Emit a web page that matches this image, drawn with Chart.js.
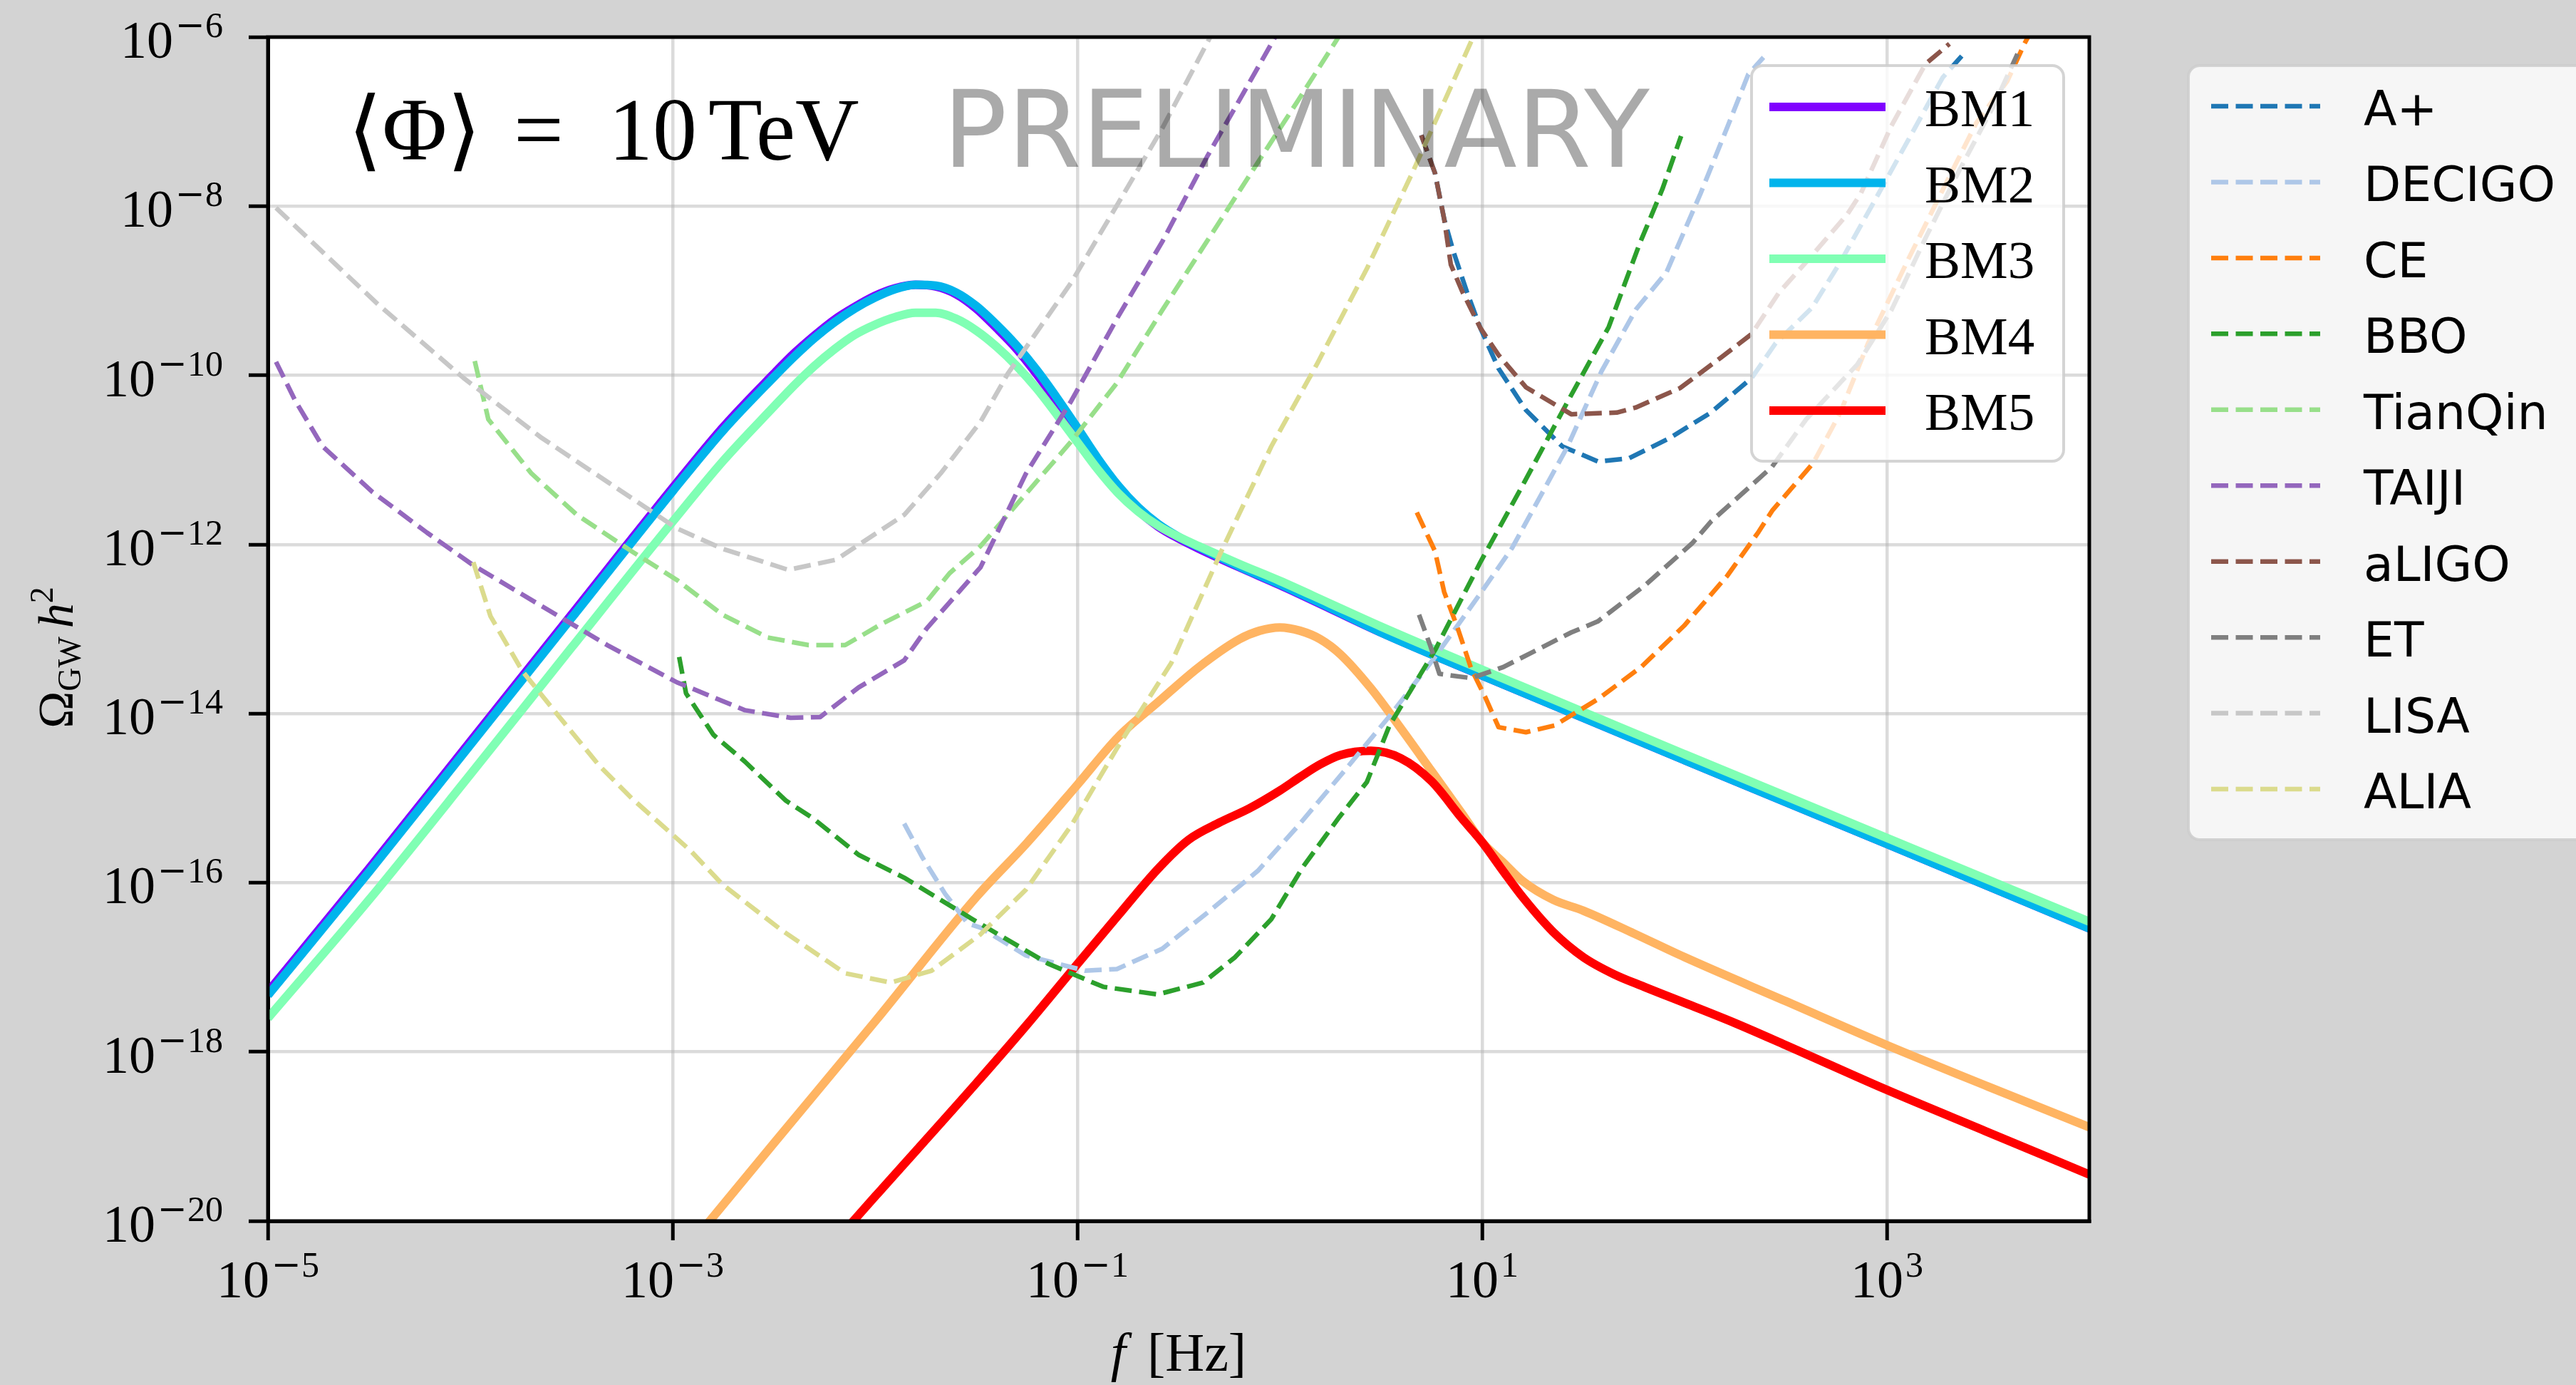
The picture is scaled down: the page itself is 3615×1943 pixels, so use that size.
<!DOCTYPE html>
<html>
<head>
<meta charset="utf-8">
<script src="https://cdn.jsdelivr.net/npm/chart.js@4.4.1/dist/chart.umd.min.js"></script>
<style>
  html, body { margin: 0; padding: 0; background: #d3d3d3; }
  canvas { display: block; }
</style>
</head>
<body>
<canvas id="gw" width="3615" height="1943"></canvas>
<script>
// ---- values are stored as base-10 exponents: log10(f / Hz) and log10(Omega_GW h^2) ----

const FREQ_TICK_EXP  = [-5, -3, -1, 1, 3];
const OMEGA_TICK_EXP = [-20, -18, -16, -14, -12, -10, -8, -6];

// benchmark spectra BM1-BM3 share one frequency grid
const bmFreqExp = [-5, -4.5, -4, -3.5, -3, -2.75, -2.5, -2.4, -2.3, -2.2, -2.1, -2.0, -1.9, -1.8, -1.7, -1.6, -1.5, -1.4, -1.3,
                   -1.2, -1.1, -1.0, -0.9, -0.8, -0.7, -0.6, -0.5, -0.4, -0.2, 0, 0.25, 0.5, 1, 2, 3, 4];
const bm1Exp = [-17.29, -15.83, -14.33, -12.83, -11.33, -10.61, -9.98, -9.74, -9.53, -9.34, -9.19, -9.06, -8.97, -8.93, -8.95, -9.04, -9.21, -9.44, -9.69,
                -9.99, -10.32, -10.67, -11.03, -11.35, -11.60, -11.79, -11.93, -12.05, -12.27, -12.48, -12.76, -13.04, -13.55, -14.55, -15.54, -16.54];
const bm2Exp = [-17.33, -15.87, -14.37, -12.87, -11.37, -10.65, -10.02, -9.78, -9.56, -9.37, -9.21, -9.08, -8.98, -8.93, -8.94, -9.02, -9.18, -9.40, -9.65,
                -9.94, -10.27, -10.62, -10.98, -11.30, -11.56, -11.76, -11.91, -12.03, -12.26, -12.47, -12.75, -13.04, -13.55, -14.55, -15.54, -16.54];
const bm3Exp = [-17.60, -16.20, -14.72, -13.22, -11.73, -11.01, -10.37, -10.12, -9.89, -9.69, -9.52, -9.40, -9.31, -9.26, -9.26, -9.33, -9.47, -9.66, -9.89,
                -10.16, -10.47, -10.79, -11.11, -11.39, -11.61, -11.78, -11.91, -12.02, -12.23, -12.43, -12.70, -12.97, -13.48, -14.48, -15.47, -16.46];

const bm4FreqExp = [-2.9, -2.5, -2.0, -1.5, -1.25, -1.0, -0.8, -0.6, -0.4, -0.2, -0.1, 0.0, 0.1, 0.2, 0.3, 0.45,
                    0.6, 0.75, 0.9, 1.0, 1.1, 1.2, 1.35, 1.5, 1.75, 2.0, 2.5, 3.0, 3.5, 4.0];
const bm4Exp = [-20.24, -19.08, -17.64, -16.17, -15.53, -14.84, -14.28, -13.86, -13.45, -13.12, -13.02, -12.98, -13.02, -13.12, -13.30, -13.70,
                -14.18, -14.68, -15.18, -15.52, -15.75, -15.98, -16.20, -16.33, -16.60, -16.88, -17.40, -17.92, -18.41, -18.89];

const bm5FreqExp = [-2.2, -2.0, -1.5, -1.25, -1.0, -0.8, -0.6, -0.45, -0.3, -0.15, 0.0, 0.1, 0.2, 0.3, 0.45, 0.6,
                    0.75, 0.9, 1.0, 1.1, 1.2, 1.35, 1.5, 1.65, 1.8, 2.0, 2.25, 2.5, 3.0, 3.5, 4.0];
const bm5Exp = [-20.25, -19.71, -18.37, -17.68, -16.96, -16.39, -15.83, -15.49, -15.29, -15.12, -14.91, -14.75, -14.60, -14.49, -14.44, -14.53,
                -14.80, -15.24, -15.52, -15.85, -16.17, -16.58, -16.88, -17.08, -17.23, -17.42, -17.66, -17.92, -18.45, -18.95, -19.45];

// detector sensitivity curves
const aplusFreqExp = [0.699, 0.767, 0.812, 0.857, 0.924, 0.991, 1.081, 1.216, 1.396, 1.574, 1.726, 1.928, 2.13, 2.332, 2.45, 2.63, 2.77, 2.938, 3.107, 3.275, 3.393];
const aplusExp     = [-7.16, -7.61, -8.15, -8.53, -9.01, -9.44, -9.92, -10.41, -10.84, -11.02, -10.98, -10.74, -10.44, -10.03, -9.62, -9.20, -8.66, -7.94, -7.21, -6.48, -6.16];

const decigoFreqExp = [-1.856, -1.766, -1.654, -1.542, -1.479, -1.254, -0.962, -0.805, -0.581, -0.356, -0.109, 0.093, 0.318, 0.542, 0.767, 0.991, 1.148, 1.42, 1.59, 1.76, 1.911, 2.079, 2.214, 2.315, 2.39];
const decigoExp     = [-15.30, -15.70, -16.13, -16.48, -16.53, -16.86, -17.04, -17.02, -16.78, -16.35, -15.86, -15.32, -14.68, -14.03, -13.33, -12.58, -12.04, -10.85, -9.95, -9.22, -8.78, -7.85, -7.05, -6.44, -6.24];

const ceFreqExp = [0.677, 0.767, 0.812, 0.879, 0.946, 1.014, 1.081, 1.216, 1.358, 1.571, 1.785, 1.998, 2.211, 2.366, 2.433, 2.635, 2.77, 2.905, 3.107, 3.275, 3.443, 3.595, 3.679, 3.72];
const ceExp     = [-11.62, -12.08, -12.56, -12.99, -13.47, -13.80, -14.16, -14.22, -14.14, -13.83, -13.45, -12.96, -12.37, -11.85, -11.60, -11.04, -10.44, -9.63, -8.62, -7.81, -7.01, -6.52, -6.08, -5.90];

const bboFreqExp = [-2.968, -2.934, -2.799, -2.642, -2.44, -2.305, -2.081, -1.856, -1.519, -1.142, -0.873, -0.603, -0.379, -0.221, -0.042, 0.115, 0.295, 0.43, 0.542, 0.767, 0.991, 1.2, 1.4225, 1.625, 1.777, 1.89, 1.983];
const bboExp     = [-13.33, -13.76, -14.25, -14.57, -15.03, -15.24, -15.67, -15.94, -16.43, -16.96, -17.23, -17.32, -17.18, -16.88, -16.43, -15.81, -15.22, -14.81, -14.14, -13.25, -12.21, -11.30, -10.31, -9.43, -8.45, -7.80, -7.17];

const tianqinFreqExp = [-3.978, -3.911, -3.698, -3.473, -3.203, -2.979, -2.754, -2.530, -2.328, -2.148, -1.968, -1.744, -1.632, -1.479, -1.254, -1.03, -0.805, -0.581, -0.356, -0.132, 0.093, 0.29, 0.33];
const tianqinExp     = [-9.83, -10.52, -11.16, -11.65, -12.08, -12.42, -12.83, -13.10, -13.19, -13.19, -12.94, -12.67, -12.34, -12.02, -11.40, -10.78, -10.09, -9.23, -8.40, -7.57, -6.74, -6.00, -5.85];

const taijiFreqExp = [-4.96, -4.865, -4.73, -4.483, -4.214, -3.989, -3.653, -3.316, -2.979, -2.642, -2.417, -2.271, -2.081, -1.856, -1.744, -1.479, -1.254, -1.03, -0.805, -0.581, -0.356, -0.177, -0.042, 0.0];
const taijiExp     = [-9.84, -10.30, -10.84, -11.38, -11.86, -12.24, -12.72, -13.20, -13.63, -13.96, -14.05, -14.04, -13.69, -13.37, -12.99, -12.27, -11.16, -10.30, -9.33, -8.42, -7.40, -6.65, -6.08, -5.90];

const aligoFreqExp = [0.699, 0.767, 0.812, 0.845, 0.902, 0.991, 1.081, 1.216, 1.44, 1.665, 1.759, 1.978, 2.18, 2.332, 2.467, 2.601, 2.803, 2.871, 3.022, 3.19, 3.309];
const aligoExp     = [-7.16, -7.61, -8.15, -8.69, -9.01, -9.44, -9.76, -10.14, -10.46, -10.44, -10.38, -10.15, -9.79, -9.51, -9.02, -8.66, -8.10, -7.85, -7.05, -6.32, -6.08];

const etFreqExp = [0.688, 0.744, 0.789, 0.946, 1.104, 1.251, 1.44, 1.571, 1.806, 2.04, 2.13, 2.433, 2.601, 2.854, 3.022, 3.19, 3.359, 3.528, 3.645];
const etExp     = [-12.83, -13.20, -13.53, -13.58, -13.45, -13.27, -13.04, -12.91, -12.48, -11.98, -11.73, -11.08, -10.52, -9.87, -9.23, -8.38, -7.57, -6.81, -6.20];

const lisaFreqExp = [-4.96, -4.461, -4.034, -3.653, -3.316, -2.979, -2.754, -2.429, -2.193, -1.856, -1.676, -1.479, -1.344, -1.03, -0.805, -0.581, -0.379, -0.3];
const lisaExp     = [-8.02, -9.15, -10.03, -10.73, -11.27, -11.81, -12.05, -12.30, -12.18, -11.65, -11.16, -10.55, -9.98, -8.90, -7.99, -7.08, -6.16, -5.80];

const aliaFreqExp = [-3.985, -3.9, -3.742, -3.563, -3.361, -3.203, -2.912, -2.754, -2.462, -2.148, -1.923, -1.721, -1.479, -1.254, -1.03, -0.805, -0.536, -0.289, -0.042, 0.183, 0.43, 0.654, 0.946, 0.98];
const aliaExp     = [-12.21, -12.85, -13.50, -14.03, -14.62, -15.00, -15.62, -16.02, -16.56, -17.07, -17.18, -17.04, -16.61, -16.08, -15.32, -14.41, -13.40, -12.08, -10.84, -9.87, -8.74, -7.61, -6.05, -5.85];

// ---- drawing ----
const SERIF = '"Liberation Serif", "DejaVu Serif", serif';
const SANS  = '"DejaVu Sans", "Open Sans", sans-serif';
const BM_WIDTH = 12, DET_WIDTH = 6.5, DET_DASH = [24, 10.5];

const toPoints = (fExp, oExp) => fExp.map((f, i) => ({ x: Math.pow(10, f), y: Math.pow(10, oExp[i]) }));

const benchmarks = [
  { label: 'BM1', color: '#8000ff', f: bmFreqExp,  o: bm1Exp },
  { label: 'BM2', color: '#00b4ec', f: bmFreqExp,  o: bm2Exp },
  { label: 'BM3', color: '#80ffb4', f: bmFreqExp,  o: bm3Exp },
  { label: 'BM4', color: '#ffb462', f: bm4FreqExp, o: bm4Exp },
  { label: 'BM5', color: '#ff0000', f: bm5FreqExp, o: bm5Exp }
];
const detectors = [
  { label: 'A+',      color: '#1f77b4', f: aplusFreqExp,   o: aplusExp },
  { label: 'DECIGO',  color: '#aec7e8', f: decigoFreqExp,  o: decigoExp },
  { label: 'CE',      color: '#ff7f0e', f: ceFreqExp,      o: ceExp },
  { label: 'BBO',     color: '#2ca02c', f: bboFreqExp,     o: bboExp },
  { label: 'TianQin', color: '#98df8a', f: tianqinFreqExp, o: tianqinExp },
  { label: 'TAIJI',   color: '#9467bd', f: taijiFreqExp,   o: taijiExp },
  { label: 'aLIGO',   color: '#8c564b', f: aligoFreqExp,   o: aligoExp },
  { label: 'ET',      color: '#7f7f7f', f: etFreqExp,      o: etExp },
  { label: 'LISA',    color: '#c7c7c7', f: lisaFreqExp,    o: lisaExp },
  { label: 'ALIA',    color: '#dbdb8d', f: aliaFreqExp,    o: aliaExp }
];

// later series are painted above earlier ones (lower "order" is drawn last)
let stack = 0;
const datasets = [];
benchmarks.forEach(b => datasets.push({
  label: b.label, kind: 'bm', data: toPoints(b.f, b.o),
  borderColor: b.color, borderWidth: BM_WIDTH, cubicInterpolationMode: 'monotone',
  borderJoinStyle: 'round', borderCapStyle: 'butt',
  pointRadius: 0, fill: false, clip: 0, order: -(stack++)
}));
detectors.forEach(d => datasets.push({
  label: d.label, kind: 'det', data: toPoints(d.f, d.o),
  borderColor: d.color, borderWidth: DET_WIDTH, borderDash: DET_DASH, tension: 0,
  borderJoinStyle: 'round', borderCapStyle: 'butt',
  pointRadius: 0, fill: false, clip: 0, order: -(stack++)
}));

function powerLabel(ctx, e, x, baseline, align) {
  const main = '10';
  const digits = String(Math.abs(e));
  ctx.font = `74px ${SERIF}`;
  const wMain = ctx.measureText(main).width;
  ctx.font = `50px "DejaVu Serif", serif`;
  const wMinus = e < 0 ? ctx.measureText('\u2212').width : 0;
  ctx.font = `50px ${SERIF}`;
  const wDig = ctx.measureText(digits).width;
  const gap = 3;
  const total = wMain + gap + wMinus + wDig;
  const x0 = align === 'center' ? x - total / 2 : x - total;
  ctx.textAlign = 'left';
  ctx.textBaseline = 'alphabetic';
  ctx.font = `74px ${SERIF}`;
  ctx.fillText(main, x0, baseline);
  if (e < 0) {
    ctx.font = `50px "DejaVu Serif", serif`;
    ctx.fillText('\u2212', x0 + wMain + gap, baseline - 29);
  }
  ctx.font = `50px ${SERIF}`;
  ctx.fillText(digits, x0 + wMain + gap + wMinus, baseline - 29);
}

const backdrop = {
  id: 'backdrop',
  beforeDraw(chart) {
    const { ctx, chartArea: a } = chart;
    ctx.save();
    ctx.fillStyle = '#d3d3d3';
    ctx.fillRect(0, 0, chart.width, chart.height);
    ctx.fillStyle = '#ffffff';
    ctx.fillRect(a.left, a.top, a.right - a.left, a.bottom - a.top);
    ctx.restore();
  }
};

const annotations = {
  id: 'annotations',
  afterDatasetsDraw(chart) {
    const { ctx, chartArea: a } = chart;
    ctx.save();
    ctx.textBaseline = 'alphabetic';
    ctx.textAlign = 'left';
    // watermark
    ctx.fillStyle = 'rgba(0,0,0,0.335)';
    ctx.font = `150px ${SANS}`;
    ctx.fillText('PRELIMINARY', a.left + 947, a.top + 182);
    // vacuum expectation value
    ctx.fillStyle = '#000';
    ctx.font = `124px ${SERIF}`;
    ctx.fillText('\u27E8\u03A6\u27E9', a.left + 112, a.top + 172);
    ctx.fillText('=', a.left + 345, a.top + 172);
    ctx.fillText('10', a.left + 478, a.top + 172);
    ctx.fillText('TeV', a.left + 618, a.top + 172);

    // frame
    ctx.strokeStyle = '#000';
    ctx.lineWidth = 5;
    ctx.strokeRect(a.left, a.top, a.right - a.left, a.bottom - a.top);
    ctx.restore();
  }
};

const axisText = {
  id: 'axisText',
  afterDraw(chart) {
    const { ctx, chartArea: a } = chart;
    const xs = chart.scales.x, ys = chart.scales.y;
    ctx.save();
    ctx.fillStyle = '#000';
    FREQ_TICK_EXP.forEach(e => powerLabel(ctx, e, xs.getPixelForValue(Math.pow(10, e)), a.bottom + 107, 'center'));
    OMEGA_TICK_EXP.forEach(e => powerLabel(ctx, e, a.left - 63, ys.getPixelForValue(Math.pow(10, e)) + 29, 'right'));

    // x title: f [Hz]
    ctx.textBaseline = 'alphabetic';
    ctx.textAlign = 'left';
    const cx = (a.left + a.right) / 2;
    ctx.font = `italic 76px ${SERIF}`;
    const wf = ctx.measureText('f').width;
    ctx.font = `76px ${SERIF}`;
    const wh = ctx.measureText('[Hz]').width;
    const sp = 30;
    let x = cx - (wf + sp + wh) / 2;
    ctx.font = `italic 76px ${SERIF}`;
    ctx.fillText('f', x, a.bottom + 210);
    ctx.font = `76px ${SERIF}`;
    ctx.fillText('[Hz]', x + wf + sp, a.bottom + 210);

    // y title: Omega_GW h^2 (rotated)
    ctx.translate(77, (a.top + a.bottom) / 2 + 40);
    ctx.rotate(-Math.PI / 2);
    const parts = [
      { t: '\u03A9', f: `70px ${SERIF}`, dy: 0 },
      { t: 'GW', f: `46px ${SERIF}`, dy: 11 },
      { t: '\u2009', f: `60px ${SERIF}`, dy: 0 },
      { t: 'h', f: `italic 70px ${SERIF}`, dy: 0 },
      { t: '2', f: `46px ${SERIF}`, dy: -28 }
    ];
    let tw = 0;
    parts.forEach(p => { ctx.font = p.f; p.w = ctx.measureText(p.t).width; tw += p.w; });
    let u = -tw / 2;
    parts.forEach(p => { ctx.font = p.f; ctx.fillText(p.t, u, 25 + p.dy); u += p.w; });
    ctx.restore();
  }
};

function legendFrame(ctx, x, y, w, h) {
  ctx.beginPath();
  ctx.roundRect(x, y, w, h, 16);
  ctx.fillStyle = 'rgba(255,255,255,0.8)';
  ctx.fill();
  ctx.lineWidth = 4;
  ctx.strokeStyle = 'rgba(204,204,204,0.85)';
  ctx.stroke();
}

const legends = {
  id: 'legends',
  afterDraw(chart) {
    const { ctx, chartArea: a } = chart;
    const sets = chart.data.datasets;
    ctx.save();
    ctx.textAlign = 'left';
    ctx.textBaseline = 'alphabetic';

    // benchmark legend inside the axes
    const bm = sets.filter(s => s.kind === 'bm');
    legendFrame(ctx, a.right - 474, a.top + 40, 438, 555);
    bm.forEach((s, i) => {
      const y = a.top + 98 + i * 106.5;
      ctx.beginPath();
      ctx.moveTo(a.right - 449, y);
      ctx.lineTo(a.right - 286, y);
      ctx.setLineDash([]);
      ctx.lineWidth = s.borderWidth;
      ctx.strokeStyle = s.borderColor;
      ctx.stroke();
      ctx.fillStyle = '#000';
      ctx.font = `75px ${SERIF}`;
      ctx.fillText(s.label, a.right - 231, y + 27);
    });

    // detector legend outside the axes
    const det = sets.filter(s => s.kind === 'det');
    legendFrame(ctx, a.right + 139, a.top + 40, 640, 1086);
    det.forEach((s, i) => {
      const y = a.top + 97 + i * 106.45;
      ctx.beginPath();
      ctx.moveTo(a.right + 171, y);
      ctx.lineTo(a.right + 324, y);
      ctx.setLineDash(s.borderDash);
      ctx.lineDashOffset = 0;
      ctx.lineWidth = s.borderWidth;
      ctx.strokeStyle = s.borderColor;
      ctx.stroke();
      ctx.setLineDash([]);
      ctx.fillStyle = '#000';
      ctx.font = `68px ${SANS}`;
      ctx.fillText(s.label, a.right + 385, y + 27);
    });
    ctx.restore();
  }
};

const GRID = 'rgba(176,176,176,0.45)';

new Chart(document.getElementById('gw'), {
  type: 'line',
  data: { datasets },
  options: {
    responsive: false,
    animation: false,
    devicePixelRatio: 1,
    events: [],
    layout: { padding: { left: 0, top: 52, right: 683, bottom: 0 } },
    plugins: { legend: { display: false }, tooltip: { enabled: false }, title: { display: false } },
    scales: {
      x: {
        type: 'logarithmic', position: 'bottom', min: 1e-5, max: 1e4,
        afterBuildTicks: s => { s.ticks = FREQ_TICK_EXP.map(e => ({ value: Math.pow(10, e) })); },
        afterFit: s => { s.height = 230; },
        ticks: { display: false },
        grid: { color: GRID, lineWidth: 4.5, drawTicks: true, tickLength: 27, tickWidth: 5, tickColor: '#000' },
        border: { display: true, color: '#000', width: 5 }
      },
      y: {
        type: 'logarithmic', position: 'left', min: 1e-20, max: 1e-6,
        afterBuildTicks: s => { s.ticks = OMEGA_TICK_EXP.map(e => ({ value: Math.pow(10, e) })); },
        afterFit: s => { s.width = 376; },
        ticks: { display: false },
        grid: { color: GRID, lineWidth: 4.5, drawTicks: true, tickLength: 27, tickWidth: 5, tickColor: '#000' },
        border: { display: true, color: '#000', width: 5 }
      }
    }
  },
  plugins: [backdrop, annotations, axisText, legends]
});
</script>
</body>
</html>
